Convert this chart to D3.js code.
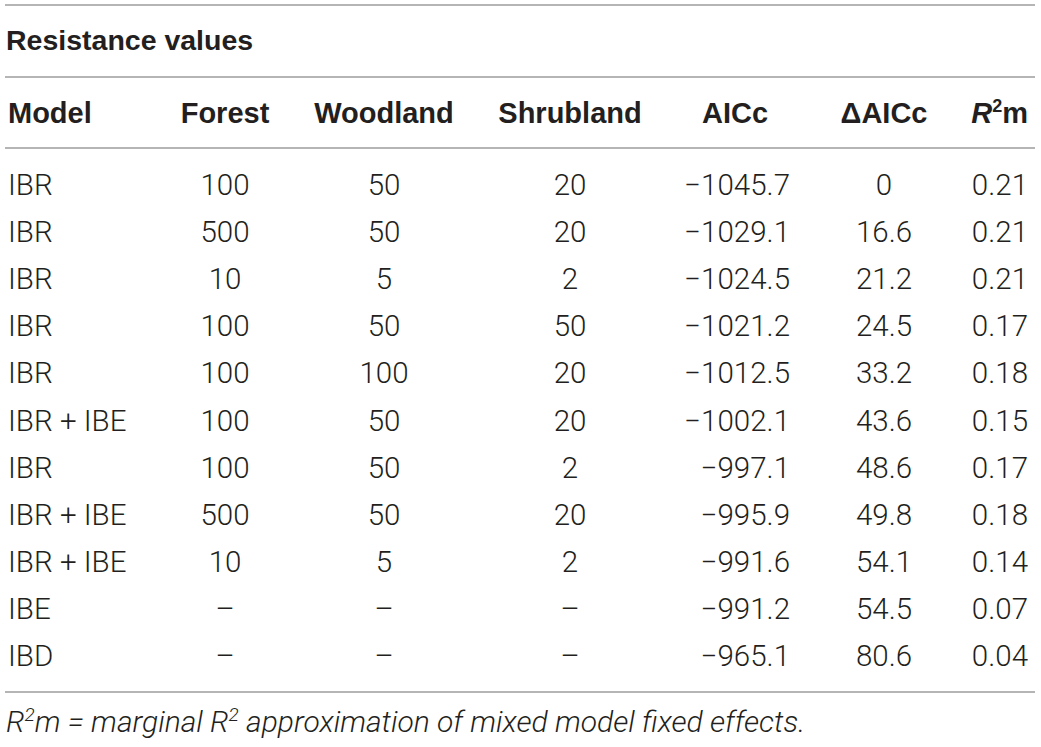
<!DOCTYPE html>
<html>
<head>
<meta charset="utf-8">
<script src="https://cdn.jsdelivr.net/npm/d3@7"></script>
<style>
  body { margin: 0; background: #fff; }
  svg text { fill: #231f20; }
  .body { font-family: Roboto, "Liberation Sans", sans-serif; font-weight: 300; font-size: 29.5px; }
  .bold { font-family: "Liberation Sans", Arial, sans-serif; font-weight: bold; font-size: 29px; }
  .title { font-size: 28.5px; }
  .foot { font-size: 30px; font-style: italic; }
</style>
</head>
<body>
<svg id="chart" width="1041" height="747"></svg>
<script>
'use strict';

// table content
const title = 'Resistance values';
const columns = ['Model', 'Forest', 'Woodland', 'Shrubland', 'AICc', 'ΔAICc', 'R2m'];
const models = ['IBR', 'IBR', 'IBR', 'IBR', 'IBR', 'IBR + IBE', 'IBR', 'IBR + IBE', 'IBR + IBE', 'IBE', 'IBD'];
const forest = [100, 500, 10, 100, 100, 100, 100, 500, 10, null, null];
const woodland = [50, 50, 5, 50, 100, 50, 50, 50, 5, null, null];
const shrubland = [20, 20, 2, 50, 20, 20, 2, 20, 2, null, null];
const aicc = [-1045.7, -1029.1, -1024.5, -1021.2, -1012.5, -1002.1, -997.1, -995.9, -991.6, -991.2, -965.1];
const deltaAicc = [0, 16.6, 21.2, 24.5, 33.2, 43.6, 48.6, 49.8, 54.1, 54.5, 80.6];
const r2m = [0.21, 0.21, 0.21, 0.17, 0.18, 0.15, 0.17, 0.18, 0.14, 0.07, 0.04];

const svg = d3.select('#chart');

const fmtInt = v => (v == null ? '–' : String(v));
const fmt1 = d3.format('.1f');
const fmtDelta = v => (v === 0 ? '0' : fmt1(v));
const fmt2 = d3.format('.2f');

// column layout: anchor x and alignment
const colSpec = [
  { key: columns[0], values: models, fmt: d => d, x: 8, anchor: 'start', hx: 8, hAnchor: 'start' },
  { key: columns[1], values: forest, fmt: fmtInt, x: 225, anchor: 'middle', hx: 225, hAnchor: 'middle' },
  { key: columns[2], values: woodland, fmt: fmtInt, x: 384, anchor: 'middle', hx: 384, hAnchor: 'middle' },
  { key: columns[3], values: shrubland, fmt: fmtInt, x: 570, anchor: 'middle', hx: 570, hAnchor: 'middle' },
  { key: columns[4], values: aicc, fmt: fmt1, x: 790, anchor: 'end', hx: 735, hAnchor: 'middle' },
  { key: columns[5], values: deltaAicc, fmt: fmtDelta, x: 884, anchor: 'middle', hx: 884, hAnchor: 'middle' },
  { key: columns[6], values: r2m, fmt: fmt2, x: 1028, anchor: 'end', hx: 1028, hAnchor: 'end' }
];

const y = d3.scaleLinear().domain([0, models.length - 1]).range([195, 666]);

// rules
const rules = [5, 77, 148, 692];
svg.selectAll('line.rule')
  .data(rules)
  .join('line')
  .attr('class', 'rule')
  .attr('x1', 5)
  .attr('x2', 1035)
  .attr('y1', d => d)
  .attr('y2', d => d)
  .attr('stroke', '#9d9d9d')
  .attr('stroke-width', 1.5);

svg.append('text')
  .attr('class', 'bold title')
  .attr('x', 6)
  .attr('y', 50)
  .text(title);

// header
const header = svg.append('g').attr('class', 'bold');
colSpec.forEach(c => {
  const t = header.append('text')
    .attr('x', c.hx)
    .attr('y', 123)
    .attr('text-anchor', c.hAnchor);
  if (c.key === 'R2m') {
    t.append('tspan').attr('font-style', 'italic').text('R');
    t.append('tspan').attr('font-size', 18).attr('dy', -11).text('2');
    t.append('tspan').attr('dy', 11).text('m');
  } else {
    t.text(c.key);
  }
});

// body cells
const body = svg.append('g').attr('class', 'body');
colSpec.forEach(c => {
  body.append('g')
    .selectAll('text')
    .data(c.values)
    .join('text')
    .attr('x', c.x)
    .attr('y', (d, i) => y(i))
    .attr('text-anchor', c.anchor)
    .text(c.fmt);
});

// footnote
const foot = svg.append('text')
  .attr('class', 'body foot')
  .attr('x', 6)
  .attr('y', 732);
foot.append('tspan').text('R');
foot.append('tspan').attr('font-size', 19).attr('dy', -11).text('2');
foot.append('tspan').attr('dy', 11).text('m = marginal R');
foot.append('tspan').attr('font-size', 19).attr('dy', -11).text('2');
foot.append('tspan').attr('dy', 11).text(' approximation of mixed model fixed effects.');
</script>
</body>
</html>
